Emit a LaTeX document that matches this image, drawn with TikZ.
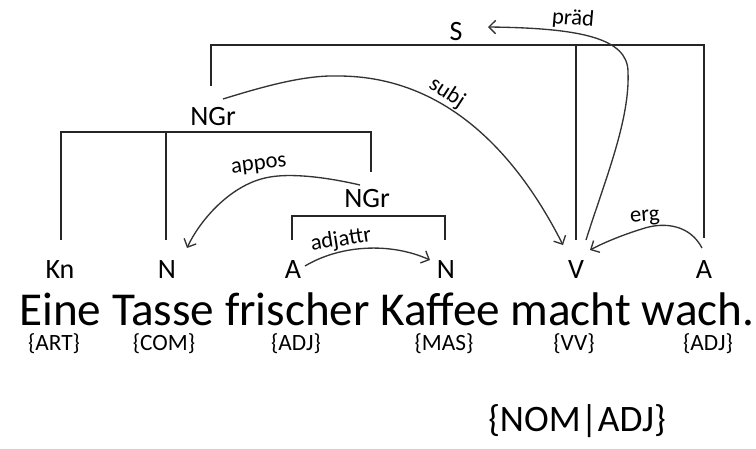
\documentclass[tikz,border=0pt]{standalone}
\usepackage{fontspec}
\setmainfont{Carlito}
\usetikzlibrary{arrows.meta}
\begin{document}
\begin{tikzpicture}[x=0.75pt,y=-0.75pt,
  lbl/.style={font=\fontsize{21}{21}\selectfont,inner sep=0pt},
  tag/.style={font=\fontsize{17.5}{17.5}\selectfont,inner sep=0pt},
  rel/.style={font=\fontsize{17}{17}\selectfont,inner sep=0pt},
  br/.style={draw=black!85,line width=1pt},
  arc/.style={draw=black!80,line width=1pt,-{Straight Barb[length=5pt,width=10pt]}}]
\useasboundingbox (0,0) rectangle (756,449);
% category labels
\node[lbl] (S) at (456,32) {S};
\node[lbl] (NGa) at (213,117) {NGr};
\node[lbl] (NGb) at (367,199) {NGr};
\node[lbl] (Kn) at (60,270) {Kn};
\node[lbl] (Na) at (167,270) {N};
\node[lbl] (Aa) at (293,270) {A};
\node[lbl] (Nb) at (446,270) {N};
\node[lbl] (V) at (576,270) {V};
\node[lbl] (Ab) at (704,270) {A};
% sentence
\node[anchor=base west,inner sep=0pt,font=\fontsize{35.4}{35.4}\selectfont] (sent) at (19,325) {Eine Tasse frischer Kaffee macht wach.};
% tags
\node[tag] (t1) at (54,344) {\{ART\}};
\node[tag] (t2) at (164,344) {\{COM\}};
\node[tag] (t3) at (296,344) {\{ADJ\}};
\node[tag] (t4) at (444,344) {\{MAS\}};
\node[tag] (t5) at (574,344) {\{VV\}};
\node[tag] (t6) at (708,344) {\{ADJ\}};
\node[font=\fontsize{28}{28}\selectfont,inner sep=0pt] (nom) at (577,421) {\{NOM|ADJ\}};
% bracket coordinates
\coordinate (s1) at (211,86);
\coordinate (s2) at (211,45);
\coordinate (s3) at (704,45);
\coordinate (s4) at (704,238);
\coordinate (s5) at (576,45);
\coordinate (s6) at (576,240);
\coordinate (n1) at (61,240);
\coordinate (n2) at (61,132);
\coordinate (n3) at (371,132);
\coordinate (n4) at (371,172);
\coordinate (n5) at (166,132);
\coordinate (n6) at (166,240);
\coordinate (m1) at (292,240);
\coordinate (m2) at (292,216);
\coordinate (m3) at (445,216);
\coordinate (m4) at (445,240);
\draw[br] (s1) -- (s2) -- (s3) -- (s4);
\draw[br] (s5) -- (s6);
\draw[br] (n1) -- (n2) -- (n3) -- (n4);
\draw[br] (n5) -- (n6);
\draw[br] (m1) -- (m2) -- (m3) -- (m4);
% arcs
\coordinate (pr0) at (586,240);
\coordinate (pr1) at (628,72);
\coordinate (pr2) at (488,27);
\draw[arc] (pr0) .. controls (605,180) and (630,120) .. (pr1)
  .. controls (628,38) and (580,28) .. (pr2);
\node[rel,rotate=-5] (lpr) at (573,19) {präd};
\coordinate (su0) at (223,99);
\coordinate (su1) at (338,76);
\coordinate (su2) at (563,245);
\draw[arc] (su0) .. controls (265,86) and (305,75) .. (su1)
  .. controls (450,76) and (520,160) .. (su2);
\node[rel,rotate=-33] (lsu) at (447,93) {subj};
\coordinate (ap0) at (360,185);
\coordinate (ap1) at (265,178);
\coordinate (ap2) at (187,248);
\draw[arc] (ap0) .. controls (330,178) and (290,172) .. (ap1)
  .. controls (230,186) and (200,220) .. (ap2);
\node[rel,rotate=7] (lap) at (259,166) {appos};
\coordinate (ad0) at (305,266);
\coordinate (ad1) at (430,260);
\draw[arc] (ad0) .. controls (340,245) and (390,242) .. (ad1);
\node[rel,rotate=9] (lad) at (341,240) {adjattr};
\coordinate (er0) at (702,248);
\coordinate (er1) at (645,228);
\coordinate (er2) at (590,250);
\draw[arc] (er0) .. controls (690,225) and (665,222) .. (er1)
  .. controls (625,234) and (605,242) .. (er2);
\node[rel,rotate=5] (ler) at (645,218) {erg};
\end{tikzpicture}
\end{document}
